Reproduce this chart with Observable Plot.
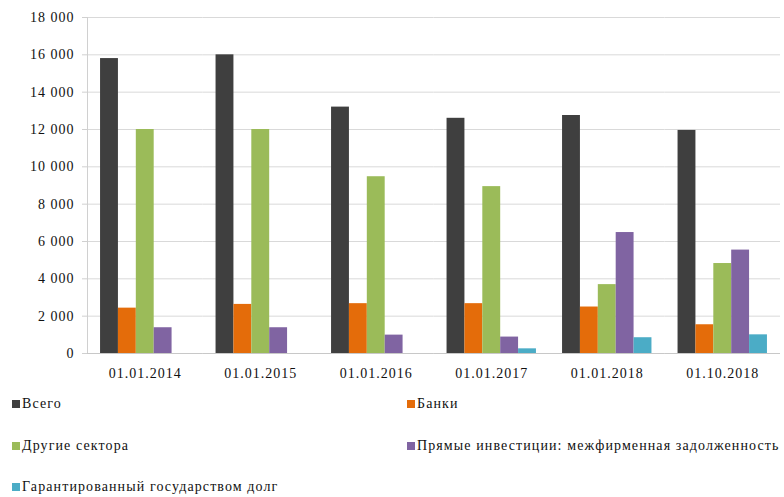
<!DOCTYPE html>
<html><head><meta charset="utf-8">
<script src="https://cdn.jsdelivr.net/npm/d3@7"></script>
<script src="https://cdn.jsdelivr.net/npm/@observablehq/plot@0.6"></script>
<style>
body{margin:0;background:#fff;font-family:"Times New Roman","Liberation Serif",serif;}
#chart svg{display:block;}
#chart svg text{font-family:"Times New Roman","Liberation Serif",serif;}
#legend{display:grid;grid-template-columns:395px auto;padding-left:12px;row-gap:17.5px;font-size:14px;letter-spacing:1.1px;color:#111;white-space:nowrap;}
#legend .item{display:flex;align-items:center;height:24px;}
#legend .sw{width:8px;height:8px;margin-right:2px;flex:none;}
</style></head><body>
<div id="chart"></div>
<div id="legend"></div>
<script>
const dates = ["01.01.2014","01.01.2015","01.01.2016","01.01.2017","01.01.2018","01.10.2018"];
const seriesNames = ["Всего","Банки","Другие сектора","Прямые инвестиции: межфирменная задолженность","Гарантированный государством долг"];
const total      = [15800, 16000, 13200, 12600, 12750, 11950];
const banks      = [2430, 2630, 2670, 2670, 2490, 1540];
const otherSect  = [12000, 12000, 9470, 8940, 3690, 4820];
const direct     = [1380, 1380, 985, 880, 6480, 5540];
const guaranteed = [0, 0, 0, 250, 845, 1000];
const yTicks = [0, 2000, 4000, 6000, 8000, 10000, 12000, 14000, 16000, 18000];
const colors = ["#3f3f3f", "#e46c0a", "#9bbb59", "#8064a2", "#4bacc6"];

const values = [total, banks, otherSect, direct, guaranteed];
const data = dates.flatMap((d, i) => seriesNames.map((s, j) => ({date: d, series: s, value: values[j][i]})));
const fmt = d => d3.format(",")(d).replace(/,/g, " ");

const chart = Plot.plot({
  width: 784, height: 392,
  marginLeft: 87, marginRight: 4, marginTop: 17, marginBottom: 39,
  style: {fontFamily: "'Times New Roman', 'Liberation Serif', serif", fontSize: "14px", color: "#111", letterSpacing: "1px", background: "#fff"},
  fx: {domain: dates, padding: 0, round: false, label: null},
  x: {domain: seriesNames, paddingInner: 0, paddingOuter: 0.73, round: false, axis: null},
  y: {domain: [0, 18000]},
  color: {domain: seriesNames, range: colors},
  marks: [
    Plot.gridY(yTicks, {stroke: "#d9d9d9", strokeOpacity: 1}),
    Plot.axisY(yTicks, {tickSize: 5, tickPadding: 8, tickFormat: fmt, label: null, stroke: "#d0d0d0"}),
    Plot.frame({anchor: "left", stroke: "#d0d0d0", facetAnchor: "left"}),
    Plot.ruleY([0], {stroke: "#c8c8c8"}),
    Plot.barY(data, {fx: "date", x: "series", y: "value", fill: "series", inset: 0}),
    Plot.axisFx({anchor: "bottom", tickSize: 0, tickPadding: 15, label: null})
  ]
});
document.getElementById("chart").appendChild(chart);

const legend = document.getElementById("legend");
seriesNames.forEach((s, j) => {
  const it = document.createElement("div");
  it.className = "item";
  const sw = document.createElement("span");
  sw.className = "sw";
  sw.style.background = colors[j];
  const t = document.createElement("span");
  t.textContent = s;
  it.appendChild(sw); it.appendChild(t);
  legend.appendChild(it);
});
</script>
</body></html>
